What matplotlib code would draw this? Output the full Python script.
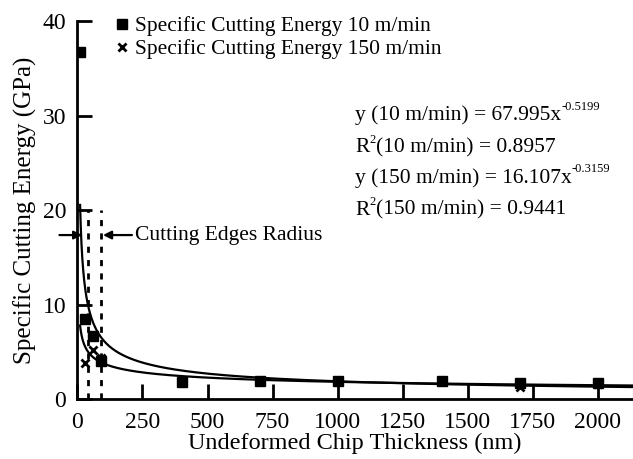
import numpy as np
import matplotlib
matplotlib.use("Agg")
import matplotlib.pyplot as plt

plt.rcParams['font.family'] = ['Liberation Serif', 'DejaVu Serif']

# measured specific cutting energy (GPa) vs undeformed chip thickness (nm)
thick_10 = [10, 30, 60, 90, 400, 700, 1000, 1400, 1700, 2000]
energy_10 = [36.7, 8.5, 6.7, 4.0, 1.8, 1.9, 1.9, 1.9, 1.7, 1.7]
thick_150 = [30, 60, 90, 400, 700, 1000, 1400, 1700, 2000]
energy_150 = [3.8, 5.2, 4.3, 1.8, 1.9, 1.9, 1.9, 1.3, 1.6]

# power law fits printed on the chart: y = a * x^b
fit_10 = (67.995, -0.5199)
fit_150 = (16.107, -0.3159)
r2_10 = 0.8957
r2_150 = 0.9441

# cutting edge radius band (nm)
edge_radius = [40, 90]

fig = plt.figure(figsize=(6.33, 4.59), dpi=100)
ax = fig.add_axes([0.1224, 0.1307, 0.8776, 0.8235])

# trend lines
xs = np.geomspace(10, 2136, 400)
ax.plot(xs, fit_10[0] * xs ** fit_10[1], color='k', lw=1.6)
ax.plot(xs, fit_150[0] * xs ** fit_150[1], color='k', lw=1.6)

# cutting edge radius markers
for r in edge_radius:
    ax.plot([r, r], [0, 20], color='k', lw=2, linestyle=(0, (2.2, 2.6)))

p150 = ax.plot(thick_150, energy_150, linestyle='none', marker='x', ms=5.5,
               mew=2, color='k', label='Specific Cutting Energy 150 m/min')[0]
p10 = ax.plot(thick_10, energy_10, linestyle='none', marker='s', ms=6.5,
              color='k', label='Specific Cutting Energy 10 m/min')[0]

# arrows pointing to the cutting edge radius
ax.annotate('', xy=(29, 17.35), xytext=(-80, 17.35),
            arrowprops=dict(arrowstyle='-|>', color='k', lw=1.6, mutation_scale=12),
            annotation_clip=False)
ax.annotate('Cutting Edges Radius', xy=(98, 17.35), xytext=(220, 17.35),
            va='center', ha='left', fontsize=15.5,
            arrowprops=dict(arrowstyle='-|>', color='k', lw=1.6, mutation_scale=12,
                            shrinkA=0, shrinkB=0))

# fit equations
eq_x = 1067
t1 = ax.text(eq_x, 29.5, 'y (10 m/min) = %.3fx' % fit_10[0], fontsize=15.5)
ax.annotate('%.4f' % fit_10[1], xy=(1, 0.62), xycoords=t1, fontsize=9, va='bottom')
t2 = ax.text(eq_x, 26.1, 'R', fontsize=15.5)
t2b = ax.annotate('2', xy=(1, 0.62), xycoords=t2, fontsize=9, va='bottom')
ax.annotate('(10 m/min) = %.4f' % r2_10, xy=(1, 0), xycoords=(t2b, t2), fontsize=15.5,
            va='bottom')
t3 = ax.text(eq_x, 22.9, 'y (150 m/min) = %.3fx' % fit_150[0], fontsize=15.5)
ax.annotate('%.4f' % fit_150[1], xy=(1, 0.62), xycoords=t3, fontsize=9, va='bottom')
t4 = ax.text(eq_x, 19.5, 'R', fontsize=15.5)
t4b = ax.annotate('2', xy=(1, 0.62), xycoords=t4, fontsize=9, va='bottom')
ax.annotate('(150 m/min) = %.4f' % r2_150, xy=(1, 0), xycoords=(t4b, t4), fontsize=15.5,
            va='bottom')

ax.legend(handles=[p10, p150], loc='upper left', bbox_to_anchor=(0.069, 1.013),
          frameon=False, fontsize=15.5, handlelength=0.6, handletextpad=0.3,
          labelspacing=0.15, borderaxespad=0, borderpad=0)

ax.set_xlim(0, 2136)
ax.set_ylim(0, 40)
ax.set_xticks(np.arange(0, 2001, 250))
ax.set_yticks([0, 10, 20, 30, 40])
ax.tick_params(direction='in', length=11, width=2, labelsize=17)
ax.tick_params(axis='x', pad=9)
ax.tick_params(axis='y', pad=8)
for side in ['top', 'right']:
    ax.spines[side].set_visible(False)
for side in ['left', 'bottom']:
    ax.spines[side].set_linewidth(2)

ax.set_xlabel('Undeformed Chip Thickness (nm)', fontsize=17.5, labelpad=0)
ax.set_ylabel('Specific Cutting Energy (GPa)', fontsize=18, labelpad=4)

fig.savefig('out.png', dpi=100)
